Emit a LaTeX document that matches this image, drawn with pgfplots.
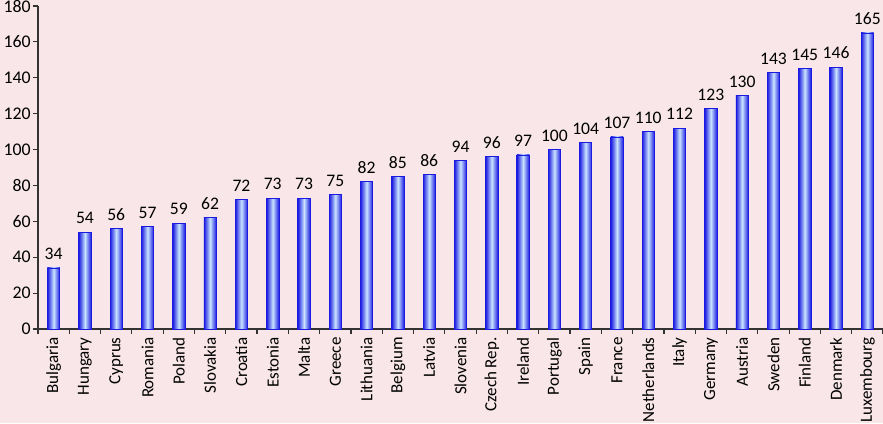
\documentclass[border=0pt]{standalone}
\usepackage{pgfplots}
\pgfplotsset{compat=1.18}
\usepackage{fontspec}
\setmainfont{Carlito}
\definecolor{bg}{HTML}{F8E6E8}
\definecolor{bedge}{HTML}{1A1AE0}
\definecolor{bmid}{HTML}{C8E4FF}
\begin{document}
\begin{tikzpicture}[x=1pt,y=1pt]
\fill[bg] (-19,-47) rectangle (422.5,164.5);
\begin{axis}[
  at={(0,0)}, anchor=south west,
  scale only axis, width=422.5pt, height=161.5pt,
  xmin=-0.5, xmax=26.5, ymin=0, ymax=180,
  axis x line*=bottom, axis y line*=left,
  axis line style={line width=0.8pt, black!80},
  ytick={0,20,...,180},
  xtick={0,...,26},
  xticklabels={Bulgaria,Hungary,Cyprus,Romania,Poland,Slovakia,Croatia,Estonia,Malta,Greece,Lithuania,Belgium,Latvia,Slovenia,Czech Rep.,Ireland,Portugal,Spain,France,Netherlands,Italy,Germany,Austria,Sweden,Finland,Denmark,Luxembourg},
  minor xtick={-0.5,0.5,...,26.5},
  every major x tick/.append style={draw=none},
  tick align=outside, major tick length=2.5pt, minor tick length=2.5pt,
  tick style={black!80, line width=0.6pt},
  x tick label style={rotate=90, anchor=east, inner sep=1.5pt, font=\fontsize{8.5}{10}\selectfont},
  y tick label style={inner sep=1pt, font=\fontsize{8.9}{10}\selectfont},
  /pgf/number format/assume math mode=true,
  ybar, bar width=6.2pt, bar shift=0pt,
  nodes near coords,
  every node near coord/.append style={font=\fontsize{8.8}{10}\selectfont, yshift=0.5pt, black},
  clip=false,
  mybar/.style={draw=bedge, line width=0.4pt, left color=bedge, right color=bedge, middle color=bmid},
]
\addplot[mybar] coordinates {(0,34)};
\addplot[mybar] coordinates {(1,54)};
\addplot[mybar] coordinates {(2,56)};
\addplot[mybar] coordinates {(3,57)};
\addplot[mybar] coordinates {(4,59)};
\addplot[mybar] coordinates {(5,62)};
\addplot[mybar] coordinates {(6,72)};
\addplot[mybar] coordinates {(7,73)};
\addplot[mybar] coordinates {(8,73)};
\addplot[mybar] coordinates {(9,75)};
\addplot[mybar] coordinates {(10,82)};
\addplot[mybar] coordinates {(11,85)};
\addplot[mybar] coordinates {(12,86)};
\addplot[mybar] coordinates {(13,94)};
\addplot[mybar] coordinates {(14,96)};
\addplot[mybar] coordinates {(15,97)};
\addplot[mybar] coordinates {(16,100)};
\addplot[mybar] coordinates {(17,104)};
\addplot[mybar] coordinates {(18,107)};
\addplot[mybar] coordinates {(19,110)};
\addplot[mybar] coordinates {(20,112)};
\addplot[mybar] coordinates {(21,123)};
\addplot[mybar] coordinates {(22,130)};
\addplot[mybar] coordinates {(23,143)};
\addplot[mybar] coordinates {(24,145)};
\addplot[mybar] coordinates {(25,146)};
\addplot[mybar] coordinates {(26,165)};
\end{axis}
\pgfresetboundingbox
\useasboundingbox (-19,-47) rectangle (422.5,164.5);
\end{tikzpicture}
\end{document}
